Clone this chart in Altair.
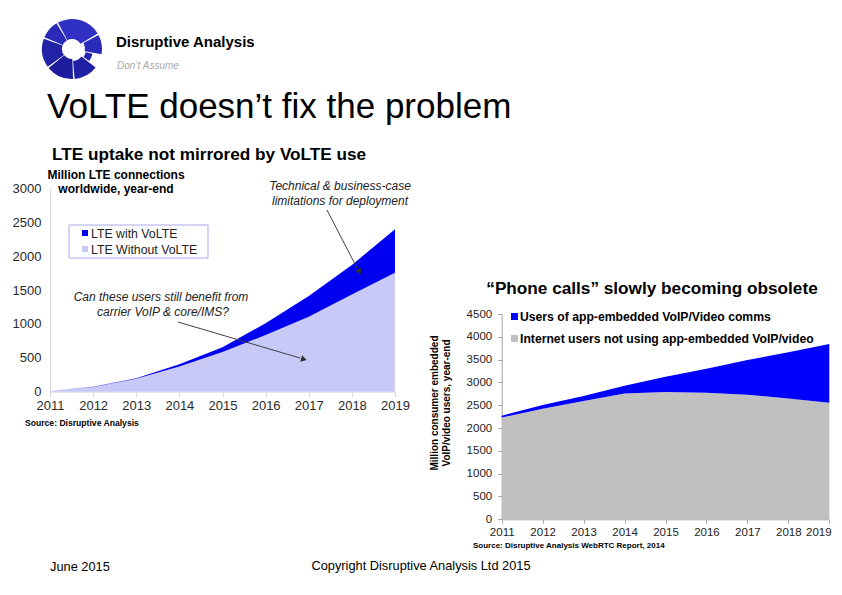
import altair as alt
import pandas as pd
import math

# ---------------- data ----------------
years = [2011, 2012, 2013, 2014, 2015, 2016, 2017, 2018, 2019]

lte_without_volte = [10, 70, 190, 370, 585, 835, 1105, 1435, 1755]
lte_with_volte = [0, 2, 10, 35, 70, 175, 305, 435, 640]
left_series = ["LTE Without VoLTE", "LTE with VoLTE"]
left_colors = ["#C9C9F7", "#0000F0"]

internet_not_using = [2230, 2425, 2595, 2755, 2790, 2775, 2730, 2650, 2555]
app_voip_users = [40, 80, 110, 175, 335, 525, 760, 1010, 1285]
right_series = ["Internet users not using app-embedded VoIP/video",
                "Users of app-embedded VoIP/Video comms"]
right_colors = ["#C0C0C0", "#0000FF"]

left_ticks_y = [0, 500, 1000, 1500, 2000, 2500, 3000]
right_ticks_y = [0, 500, 1000, 1500, 2000, 2500, 3000, 3500, 4000, 4500]

FONT = "Liberation Sans"
W, H = 826, 579


def P(v):
    return v - 8


def long_df(a, b, names):
    rows = []
    for i, yr in enumerate(years):
        rows.append({"year": yr, "series": names[0], "value": a[i], "ord": 0})
        rows.append({"year": yr, "series": names[1], "value": b[i], "ord": 1})
    return pd.DataFrame(rows)


def txt(s, x, y, size, weight="normal", style="normal", color="black",
        align="left", baseline="alphabetic", angle=0):
    return alt.Chart(pd.DataFrame({"t": [s]})).mark_text(
        font=FONT, fontSize=size, fontWeight=weight, fontStyle=style,
        color=color, align=align, baseline=baseline, angle=angle
    ).encode(x=alt.value(P(x)), y=alt.value(P(y)), text="t:N")


def rule(x1, y1, x2, y2, color="#404040", width=1):
    return alt.Chart(pd.DataFrame({"a": [0]})).mark_rule(
        color=color, strokeWidth=width
    ).encode(x=alt.value(P(x1)), y=alt.value(P(y1)),
             x2=alt.value(P(x2)), y2=alt.value(P(y2)))


def head(x, y, angle, color="#303030"):
    return alt.Chart(pd.DataFrame({"a": [0]})).mark_point(
        shape="triangle", filled=True, size=45, angle=angle, color=color, opacity=1
    ).encode(x=alt.value(P(x)), y=alt.value(P(y)))


def box(x1, y1, x2, y2, fill, stroke=None):
    kw = dict(fill=fill)
    if stroke:
        kw["stroke"] = stroke
        kw["strokeWidth"] = 1
    return alt.Chart(pd.DataFrame({"a": [0]})).mark_rect(**kw).encode(
        x=alt.value(P(x1)), x2=alt.value(P(x2)),
        y=alt.value(P(y1)), y2=alt.value(P(y2)))


# ---------------- left chart ----------------
L_X0, L_X1 = 50, 395
L_Y0, L_Y1 = 391.7, 188.3
left_df = long_df(lte_without_volte, lte_with_volte, left_series)

left_area = alt.Chart(left_df).mark_area(opacity=1).encode(
    x=alt.X("year:Q",
            scale=alt.Scale(domain=[2011, 2019], range=[P(L_X0), P(L_X1)], nice=False, zero=False),
            axis=alt.Axis(orient="bottom", offset=-(H - P(L_Y0)), values=years, format="d",
                          title=None, grid=False, labelFont=FONT, labelFontSize=13,
                          labelColor="#2a2a2a", domainColor="#d9d9d9", tickColor="#d9d9d9",
                          tickSize=5, labelPadding=3, labelOverlap=False, labelBound=False,
                          labelFlush=False)),
    y=alt.Y("value:Q", stack="zero",
            scale=alt.Scale(domain=[0, 3000], range=[P(L_Y0), P(L_Y1)], nice=False),
            axis=alt.Axis(orient="left", offset=-P(L_X0), values=left_ticks_y, format="d",
                          title=None, grid=False, ticks=False, labelFont=FONT, labelFontSize=13,
                          labelColor="#2a2a2a", domainColor="#d9d9d9", labelPadding=9,
                          labelOverlap=False, labelFlush=False)),
    color=alt.Color("series:N", scale=alt.Scale(domain=left_series, range=left_colors), legend=None),
    order=alt.Order("ord:Q"),
)

# ---------------- right chart ----------------
R_X0, R_X1 = 501.7, 829.3
R_Y0, R_Y1 = 519.3, 314
right_df = long_df(internet_not_using, app_voip_users, right_series)

right_area = alt.Chart(right_df).mark_area(opacity=1).encode(
    x=alt.X("year:Q",
            scale=alt.Scale(domain=[2011, 2019], range=[P(R_X0), P(R_X1)], nice=False, zero=False),
            axis=alt.Axis(orient="bottom", offset=-(H - P(R_Y0)), values=years, format="d",
                          title=None, grid=False, labelFont=FONT, labelFontSize=11.5,
                          labelColor="#222222", domainColor="#a6a6a6", tickColor="#a6a6a6",
                          tickSize=4, labelPadding=3, labelOverlap=False, labelBound=False,
                          labelFlush=False,
                          labelOffset={"condition": {"test": "datum.value == 2019", "value": -11},
                                       "value": 0})),
    y=alt.Y("value:Q", stack="zero",
            scale=alt.Scale(domain=[0, 4500], range=[P(R_Y0), P(R_Y1)], nice=False),
            axis=alt.Axis(orient="left", offset=-P(R_X0), values=right_ticks_y, format="d",
                          title=None, grid=False, ticks=True, tickSize=4, tickColor="#a6a6a6",
                          labelFont=FONT, labelFontSize=11.5, labelColor="#222222",
                          domainColor="#a6a6a6", labelPadding=6, labelOverlap=False,
                          labelFlush=False)),
    color=alt.Color("series:N", scale=alt.Scale(domain=right_series, range=right_colors), legend=None),
    order=alt.Order("ord:Q"),
)

# ---------------- logo ----------------
d = math.pi / 180
logo_df = pd.DataFrame({
    "t0": [-28 * d, 62 * d, 103 * d, 128 * d, 178 * d, 234 * d, 293 * d],
    "t1": [59 * d, 100 * d, 125 * d, 175 * d, 231 * d, 290 * d, 329 * d],
    "r0": [10, 13, 14, 12, 10, 10, 10],
    "r1": [30, 30, 21, 30, 30, 30, 30],
    "c": ["#3030c4", "#2a2ab8", "#2424ac", "#2020a4", "#1c1c9c", "#2222a8", "#2a2ab8"],
})
logo = alt.Chart(logo_df).mark_arc().encode(
    theta=alt.Theta("t0:Q", scale=None), theta2="t1:Q",
    radius=alt.Radius("r1:Q", scale=None), radius2="r0:Q",
    color=alt.Color("c:N", scale=None),
    x=alt.value(P(72)), y=alt.value(P(49)),
)

layers = [
    logo,
    txt("Disruptive Analysis", 116, 47, 15, weight="bold"),
    txt("Don\u2019t Assume", 117, 69, 10, style="italic", color="#aaaaaa"),
    txt("VoLTE doesn\u2019t fix the problem", 47, 118, 35),
    txt("LTE uptake not mirrored by VoLTE use", 52, 160, 17.2, weight="bold"),
    left_area,
    txt("Million LTE connections", 116, 179, 12, weight="bold", align="center"),
    txt("worldwide, year-end", 116, 193, 12, weight="bold", align="center"),
    box(69, 225, 208, 258, "white", stroke="#a9a9ee"),
    box(82, 230, 88, 236, "#0000F0"),
    box(82, 246, 88, 252, "#C9C9F7"),
    txt("LTE with VoLTE", 91, 233.5, 12.3, color="#222222", baseline="middle"),
    txt("LTE Without VoLTE", 91, 249.5, 12.3, color="#222222", baseline="middle"),
    txt("Technical & business-case", 340, 190, 12, style="italic", color="#222222", align="center"),
    txt("limitations for deployment", 340, 205, 12, style="italic", color="#222222", align="center"),
    rule(327, 210, 357, 268),
    head(359, 271, 152),
    txt("Can these users still benefit from", 161, 301, 12, style="italic", color="#222222", align="center"),
    txt("carrier VoIP & core/IMS?", 163, 316, 12, style="italic", color="#222222", align="center"),
    rule(178, 322, 300, 358),
    head(303, 359, 106),
    txt("Source: Disruptive Analysis", 25, 426, 8.6, weight="bold"),
    txt("\u201cPhone calls\u201d slowly becoming obsolete", 652, 294, 17.2, weight="bold", align="center"),
    right_area,
    box(511, 313, 518, 320, "#0000FF"),
    box(511, 335, 518, 342, "#C0C0C0"),
    txt("Users of app-embedded VoIP/Video comms", 520, 317, 12.2, weight="bold", baseline="middle"),
    txt("Internet users not using app-embedded VoIP/video", 520, 339, 12.2, weight="bold", baseline="middle"),
    txt("Million consumer  embedded", 435, 403, 10, weight="bold", align="center", baseline="middle", angle=270),
    txt("VoIP/video users, year-end", 447, 403, 10, weight="bold", align="center", baseline="middle", angle=270),
    txt("Source: Disruptive Analysis WebRTC Report, 2014", 473, 548, 8, weight="bold"),
    txt("June 2015", 50, 571, 12.8),
    txt("Copyright Disruptive Analysis Ltd 2015", 421, 570, 12.8, align="center"),
]

chart = alt.layer(*layers).resolve_scale(
    x="independent", y="independent", color="independent", theta="independent", radius="independent"
).resolve_axis(x="independent", y="independent").properties(
    width=W, height=H, padding=0, autosize=alt.AutoSizeParams(type="none"),
    background="white",
).configure_view(stroke=None)

chart.save("out.html", embed_options={"renderer": "svg", "actions": False})
